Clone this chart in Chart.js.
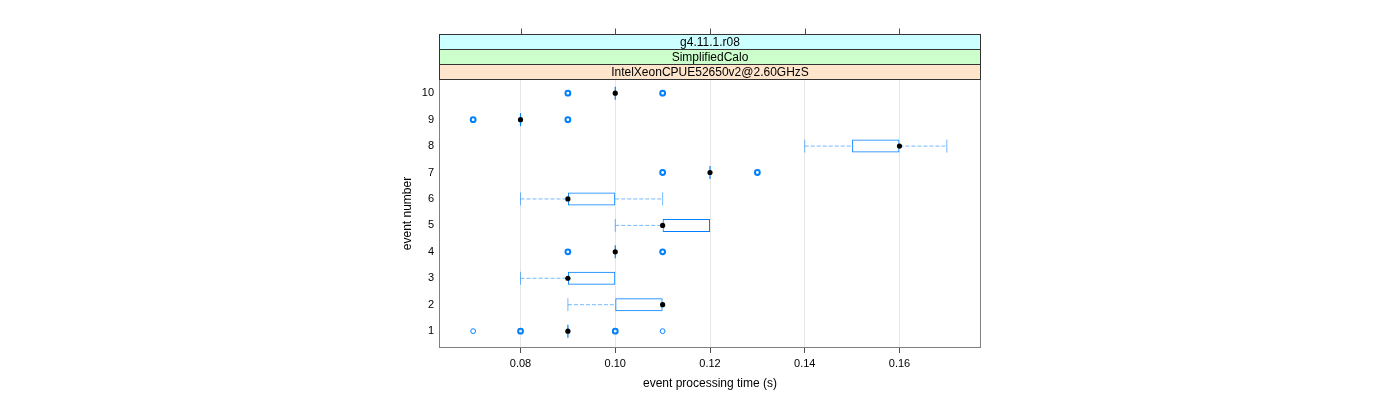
<!DOCTYPE html>
<html>
<head>
<meta charset="utf-8">
<script src="https://cdn.jsdelivr.net/npm/chart.js@4.4.1/dist/chart.umd.min.js"></script>
<style>
  html, body { margin: 0; padding: 0; background: #fff; }
  canvas { display: block; }
</style>
</head>
<body>
<canvas id="myChart" width="1400" height="400"></canvas>
<script>
// Box statistics per event
const events   = [1, 2, 3, 4, 5, 6, 7, 8, 9, 10];
const whiskLo  = [0.09, 0.09, 0.08, 0.10, 0.10, 0.08, 0.12, 0.14, 0.08, 0.10];
const boxLo    = [0.09, 0.10, 0.09, 0.10, 0.11, 0.09, 0.12, 0.15, 0.08, 0.10];
const medians  = [0.09, 0.11, 0.09, 0.10, 0.11, 0.09, 0.12, 0.16, 0.08, 0.10];
const boxHi    = [0.09, 0.11, 0.10, 0.10, 0.12, 0.10, 0.12, 0.16, 0.08, 0.10];
const whiskHi  = [0.09, 0.11, 0.10, 0.10, 0.12, 0.11, 0.12, 0.17, 0.08, 0.10];

// Outliers: event, value, how many overlap (bold ring when > 1)
const outEvent = [1, 1, 1, 1, 4, 4, 7, 7, 9, 9, 10, 10];
const outValue = [0.07, 0.08, 0.10, 0.11, 0.09, 0.11, 0.11, 0.13, 0.07, 0.09, 0.09, 0.11];
const outCount = [1, 3, 3, 1, 2, 2, 2, 2, 2, 2, 2, 2];

const xTicks = [0.08, 0.10, 0.12, 0.14, 0.16];
const yTicks = [1, 2, 3, 4, 5, 6, 7, 8, 9, 10];

const stripTexts  = ['IntelXeonCPUE52650v2@2.60GHzS', 'SimplifiedCalo', 'g4.11.1.r08'];
const stripColors = ['#ffe5cc', '#ccffcc', '#ccffff'];

const boxBlue = '#0080ff';
const whiskBlue = 'rgba(0, 128, 255, 0.55)';
const FONT = 'Liberation Sans, Arial, Helvetica, sans-serif';

// build datasets
const boxes = [];
const flatBoxes = [];
const whiskers = [];
const caps = [];
events.forEach((e, i) => {
    if (boxLo[i] !== boxHi[i]) {
        boxes.push({ y: e, x: [boxLo[i], boxHi[i]] });
    } else {
        flatBoxes.push({ x: medians[i], y: e });
    }
    if (whiskLo[i] < boxLo[i]) {
        whiskers.push({ x: whiskLo[i], y: e }, { x: boxLo[i], y: e }, { x: null, y: null });
        caps.push({ x: whiskLo[i], y: e });
    }
    if (whiskHi[i] > boxHi[i]) {
        whiskers.push({ x: boxHi[i], y: e }, { x: whiskHi[i], y: e }, { x: null, y: null });
        caps.push({ x: whiskHi[i], y: e });
    }
});
const medianPts = events.map((e, i) => ({ x: medians[i], y: e }));
const outlierPts = outEvent.map((e, i) => ({ x: outValue[i], y: e }));

// strips above the panel, top tick marks and panel frame
const stripPlugin = {
    id: 'strips',
    afterDraw(chart) {
        const { ctx, chartArea: a, scales } = chart;
        const h = 15;
        ctx.save();
        ctx.lineWidth = 1;
        ctx.strokeStyle = '#808080';
        ctx.strokeRect(a.left - 0.5, a.top - 0.5, a.right - a.left + 1, a.bottom - a.top + 1);
        ctx.font = '12px ' + FONT;
        ctx.textAlign = 'center';
        ctx.textBaseline = 'middle';
        stripTexts.forEach((t, i) => {
            const y0 = a.top - h * (i + 1);
            ctx.fillStyle = stripColors[i];
            ctx.fillRect(a.left - 0.5, y0 - 0.5, a.right - a.left + 1, h);
            ctx.strokeStyle = '#333';
            ctx.strokeRect(a.left - 0.5, y0 - 0.5, a.right - a.left + 1, h);
            ctx.fillStyle = '#000';
            ctx.fillText(t, (a.left + a.right) / 2, y0 + h / 2);
        });
        const topY = a.top - h * stripTexts.length - 0.5;
        ctx.strokeStyle = '#4d4d4d';
        ctx.beginPath();
        xTicks.forEach(v => {
            const px = Math.round(scales.x.getPixelForValue(v)) + 0.5;
            ctx.moveTo(px, topY);
            ctx.lineTo(px, topY - 6);
        });
        ctx.stroke();
        ctx.restore();
    }
};

const ctx = document.getElementById('myChart').getContext('2d');
new Chart(ctx, {
    type: 'bar',
    data: {
        datasets: [
            {
                type: 'scatter', data: medianPts, order: 0,
                pointStyle: 'circle', pointRadius: 2.6, pointBackgroundColor: '#000',
                pointBorderColor: '#000', pointBorderWidth: 0
            },
            {
                type: 'scatter', data: outlierPts, order: 1,
                pointStyle: 'circle', pointRadius: 2.4, pointBackgroundColor: 'rgba(0,0,0,0)',
                pointBorderColor: boxBlue,
                pointBorderWidth: c => (outCount[c.dataIndex] > 1 ? 2 : 1)
            },
            {
                type: 'bar', data: boxes, order: 2,
                backgroundColor: 'rgba(0,0,0,0)', borderColor: boxBlue,
                borderWidth: 1, borderSkipped: false, barThickness: 13, inflateAmount: 0
            },
            {
                type: 'scatter', data: flatBoxes, order: 3,
                pointStyle: 'line', pointRotation: 90, pointRadius: 6.5,
                pointBorderColor: boxBlue, pointBorderWidth: 1.2
            },
            {
                type: 'scatter', data: caps, order: 4,
                pointStyle: 'line', pointRotation: 90, pointRadius: 6.5,
                pointBorderColor: whiskBlue, pointBorderWidth: 1
            },
            {
                type: 'line', data: whiskers, order: 5,
                borderColor: whiskBlue, borderWidth: 1, borderDash: [4, 2],
                pointRadius: 0, spanGaps: false, fill: false
            }
        ]
    },
    options: {
        responsive: false,
        animation: false,
        events: [],
        indexAxis: 'y',
        layout: { padding: { left: 396, right: 420, top: 80, bottom: 5 } },
        plugins: { legend: { display: false }, tooltip: { enabled: false } },
        scales: {
            x: {
                type: 'linear', position: 'bottom', min: 0.063, max: 0.177, offset: false,
                afterBuildTicks: s => { s.ticks = xTicks.map(v => ({ value: v })); },
                afterFit: s => { s.height = 48; },
                ticks: { callback: v => v.toFixed(2), color: '#000', font: { family: FONT, size: 11 }, padding: 4, maxRotation: 0 },
                grid: { color: '#e6e6e6', tickColor: '#4d4d4d', tickLength: 6, offset: false },
                border: { display: false },
                title: { display: true, text: 'event processing time (s)', color: '#000', font: { family: FONT, size: 12 } }
            },
            y: {
                type: 'linear', min: 0.4, max: 10.5, offset: false,
                afterBuildTicks: s => { s.ticks = yTicks.map(v => ({ value: v })); },
                afterFit: s => { s.width = 44; },
                ticks: { callback: v => String(v), color: '#000', font: { family: FONT, size: 11 }, padding: 6 },
                grid: { display: false, drawTicks: false, offset: false },
                border: { display: false },
                title: { display: true, text: 'event number', color: '#000', font: { family: FONT, size: 12 } }
            }
        }
    },
    plugins: [stripPlugin]
});
</script>
</body>
</html>
